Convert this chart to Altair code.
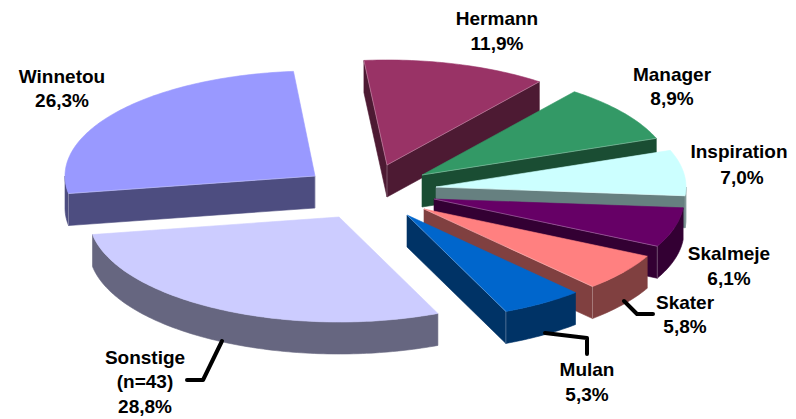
import math
import altair as alt
import pandas as pd

names = ["Hermann", "Manager", "Inspiration", "Skalmeje", "Skater", "Mulan", "Sonstige", "Winnetou"]
shares = [11.9, 8.9, 7.0, 6.1, 5.8, 5.3, 28.8, 26.3]
top_colors = ["#993366", "#339966", "#CCFFFF", "#660066", "#FF8080", "#0066CC", "#CCCCFF", "#9999FF"]
side_colors = ["#4D1A33", "#1A4D33", "#668080", "#330033", "#804040", "#003366", "#666680", "#4D4D80"]
tips_x = [387, 422, 436, 434, 424, 407, 339, 315]
tips_y = [165, 175, 187, 199, 209, 215, 217, 176]
paint_order = ["Winnetou", "Hermann", "Manager", "Inspiration", "Skalmeje", "Skater", "Mulan", "Sonstige"]

label_lines = [
    ("Hermann", 497, 25), ("11,9%", 497, 50),
    ("Manager", 672, 81), ("8,9%", 672, 105),
    ("Inspiration", 739, 158), ("7,0%", 742, 184),
    ("Skalmeje", 729, 260), ("6,1%", 729, 285),
    ("Skater", 685, 309), ("5,8%", 685, 333),
    ("Mulan", 587, 376), ("5,3%", 587, 401),
    ("Sonstige", 145, 364), ("(n=43)", 145, 388), ("28,8%", 145, 413),
    ("Winnetou", 62, 83), ("26,3%", 62, 107),
]
leaders = [
    [(222, 341), (203, 380), (187, 380)],
    [(624, 301), (637, 314), (653, 314)],
    [(545, 333), (587, 338), (587, 354)],
]

RX, RY, DEPTH, START = 250, 105, 32, -5.3
W, H = 780, 408
xs = alt.Scale(domain=[8, 8 + W], range=[0, W])
ys = alt.Scale(domain=[8, 8 + H], range=[0, H])


def rim(cx, cy, t):
    r = math.radians(t)
    return cx + RX * math.sin(r), cy - RY * math.cos(r)


def arc(cx, cy, a, b):
    n = max(2, int(abs(b - a)) + 1)
    return [rim(cx, cy, a + (b - a) * i / n) for i in range(n + 1)]


def frame(pts):
    return pd.DataFrame({"x": [p[0] for p in pts], "y": [p[1] for p in pts], "i": range(len(pts))})


def poly(pts, color):
    return alt.Chart(frame(list(pts) + [pts[0]])).mark_line(fill=color, stroke=color, strokeWidth=0.6).encode(
        x=alt.X("x:Q", scale=xs, axis=None),
        y=alt.Y("y:Q", scale=ys, axis=None),
        order="i:Q",
    )


def edge(pts):
    return alt.Chart(frame(pts)).mark_line(color="white", strokeWidth=0.8, opacity=0.35).encode(
        x=alt.X("x:Q", scale=xs, axis=None),
        y=alt.Y("y:Q", scale=ys, axis=None),
        order="i:Q",
    )


spans = {}
t = START
for n, s in zip(names, shares):
    spans[n] = (t, t + s * 3.6)
    t += s * 3.6

layers = []
for name in paint_order:
    k = names.index(name)
    cx, cy = tips_x[k], tips_y[k]
    a, b = spans[name]
    side, top = side_colors[k], top_colors[k]
    sa = math.sin(math.radians(a))
    sb = math.sin(math.radians(b))
    highlights = []
    if sa < 0:
        p = rim(cx, cy, a)
        layers.append(poly([(cx, cy), p, (p[0], p[1] + DEPTH), (cx, cy + DEPTH)], side))
        highlights.append([(cx, cy), p])
        highlights.append([(cx, cy), (cx, cy + DEPTH)])
    if sb > 0:
        p = rim(cx, cy, b)
        layers.append(poly([(cx, cy), p, (p[0], p[1] + DEPTH), (cx, cy + DEPTH)], side))
        highlights.append([(cx, cy), p])
        if 90 <= b <= 270:
            highlights.append([p, (p[0], p[1] + DEPTH)])
    lo, hi = max(a, 90), min(b, 270)
    if hi > lo:
        rim_pts = arc(cx, cy, lo, hi)
        layers.append(poly(rim_pts + [(x, y + DEPTH) for x, y in reversed(rim_pts)], side))
        if 90 <= a <= 270 and sa < 0:
            p = rim(cx, cy, a)
            highlights.append([p, (p[0], p[1] + DEPTH)])
    layers.append(poly([(cx, cy)] + arc(cx, cy, a, b), top))
    layers.extend(edge(h) for h in highlights)

for path in leaders:
    layers.append(alt.Chart(frame(path)).mark_line(color="black", strokeWidth=4, strokeCap="round", strokeJoin="round").encode(
        x=alt.X("x:Q", scale=xs, axis=None), y=alt.Y("y:Q", scale=ys, axis=None), order="i:Q"))

labels = pd.DataFrame(label_lines, columns=["text", "x", "y"])
layers.append(alt.Chart(labels).mark_text(font="Liberation Sans", fontWeight="bold", fontSize=19, color="black",
                                         align="center", baseline="alphabetic").encode(
    x=alt.X("x:Q", scale=xs, axis=None), y=alt.Y("y:Q", scale=ys, axis=None), text="text:N"))

chart = alt.layer(*layers).properties(width=W, height=H, padding=0, background="white",
                                      autosize=alt.AutoSizeParams(type="none")).configure_view(stroke=None)
chart.save("out.html", embed_options={"renderer": "svg", "actions": False})
